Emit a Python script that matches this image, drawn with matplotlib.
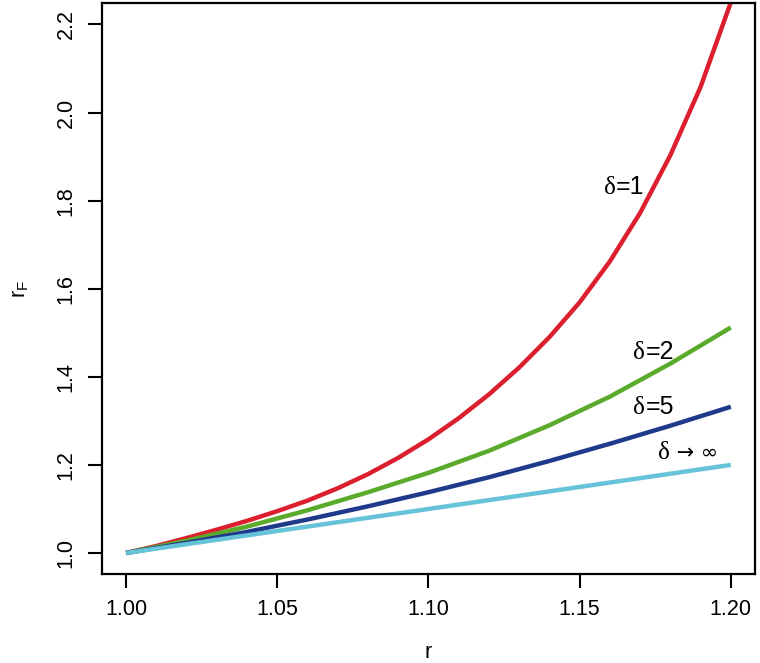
import numpy as np
import matplotlib.pyplot as plt
from matplotlib.offsetbox import TextArea, HPacker, AnnotationBbox

plt.rcParams['font.family'] = ['Liberation Sans', 'DejaVu Sans']

# values
r_d1 = [1.00, 1.01, 1.02, 1.03, 1.04, 1.05, 1.06, 1.07, 1.08, 1.09, 1.10,
        1.11, 1.12, 1.13, 1.14, 1.15, 1.16, 1.17, 1.18, 1.19, 1.20]
rf_d1 = [1.000, 1.016, 1.034, 1.053, 1.073, 1.095, 1.119, 1.147, 1.179, 1.216, 1.258,
         1.306, 1.360, 1.421, 1.490, 1.569, 1.662, 1.772, 1.903, 2.058, 2.250]

r_lo = [1.00, 1.02, 1.04, 1.06, 1.08, 1.10, 1.12, 1.14, 1.16, 1.18, 1.20]
rf_d2 = [1.000, 1.028, 1.060, 1.097, 1.138, 1.182, 1.232, 1.290, 1.355, 1.430, 1.512]
rf_d5 = [1.000, 1.023, 1.048, 1.076, 1.106, 1.138, 1.172, 1.209, 1.248, 1.289, 1.332]
rf_inf = [1.00, 1.02, 1.04, 1.06, 1.08, 1.10, 1.12, 1.14, 1.16, 1.18, 1.20]

# label pieces: (symbol part, plain part)
labels = [('\u03b4', '=1'), ('\u03b4', '=2'), ('\u03b4', '=5'), ('\u03b4', ' \u2192 \u221e')]
label_pos = [(1.1646, 1.830), (1.1745, 1.456), (1.1745, 1.332), (1.186, 1.226)]

colors = ['#dc1f2e', '#5aaa2b', '#1f3a8a', '#67c3d9']

fig = plt.figure(figsize=(7.6, 6.63), dpi=100)
ax = fig.add_axes([0.134, 0.134, 0.8594, 0.861])

ax.plot(r_d1, rf_d1, color=colors[0], lw=3.2, solid_capstyle='butt')
ax.plot(r_lo, rf_d2, color=colors[1], lw=3.2, solid_capstyle='butt')
ax.plot(r_lo, rf_d5, color=colors[2], lw=3.2, solid_capstyle='butt')
ax.plot(r_lo, rf_inf, color=colors[3], lw=3.2, solid_capstyle='butt')

serif = ['Liberation Serif', 'DejaVu Serif']
for (sym, rest), (x, y) in zip(labels, label_pos):
    parts = [TextArea(sym, textprops=dict(fontsize=18, family=serif))]
    if rest.startswith(' '):
        parts.append(TextArea(rest, textprops=dict(fontsize=15, family=['DejaVu Sans'])))
    else:
        parts.append(TextArea(rest, textprops=dict(fontsize=18)))
    box = HPacker(children=parts, align='baseline', pad=0, sep=0)
    ab = AnnotationBbox(box, (x, y), xycoords='data', frameon=False, box_alignment=(0.5, 0.5))
    ax.add_artist(ab)

ax.set_xlim(0.992, 1.208)
ax.set_ylim(0.952, 2.248)
ax.set_xticks([1.00, 1.05, 1.10, 1.15, 1.20])
ax.set_xticklabels(['1.00', '1.05', '1.10', '1.15', '1.20'])
ax.set_yticks([1.0, 1.2, 1.4, 1.6, 1.8, 2.0, 2.2])
ax.set_yticklabels(['1.0', '1.2', '1.4', '1.6', '1.8', '2.0', '2.2'], rotation=90, va='center')
ax.tick_params(labelsize=15.5, length=10, width=1.5, pad=8)
for s in ax.spines.values():
    s.set_linewidth(1.6)

ax.set_xlabel('r', fontsize=15.5, labelpad=16)
ax.set_ylabel(r'$\mathregular{r_F}$', fontsize=15.5, labelpad=18)

fig.savefig('out.png', dpi=100)
